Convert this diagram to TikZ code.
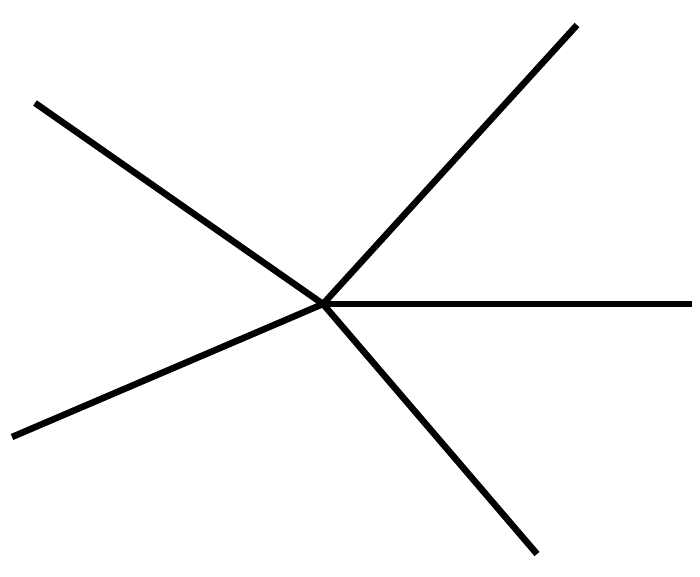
\documentclass[tikz,border=0pt]{standalone}
\begin{document}
\begin{tikzpicture}[x=1pt,y=-1pt,spoke/.style={line width=6.5pt,black}]
\useasboundingbox (0,0) rectangle (700,577);
\coordinate (c) at (323,304);
\coordinate (a) at (35,103);
\coordinate (b) at (577,25);
\coordinate (d) at (692,304);
\coordinate (e) at (537,554);
\coordinate (f) at (12,437);
\draw[spoke] (c) -- (a);
\draw[spoke] (c) -- (b);
\draw[spoke] (c) -- (d);
\draw[spoke] (c) -- (e);
\draw[spoke] (c) -- (f);
\end{tikzpicture}
\end{document}
